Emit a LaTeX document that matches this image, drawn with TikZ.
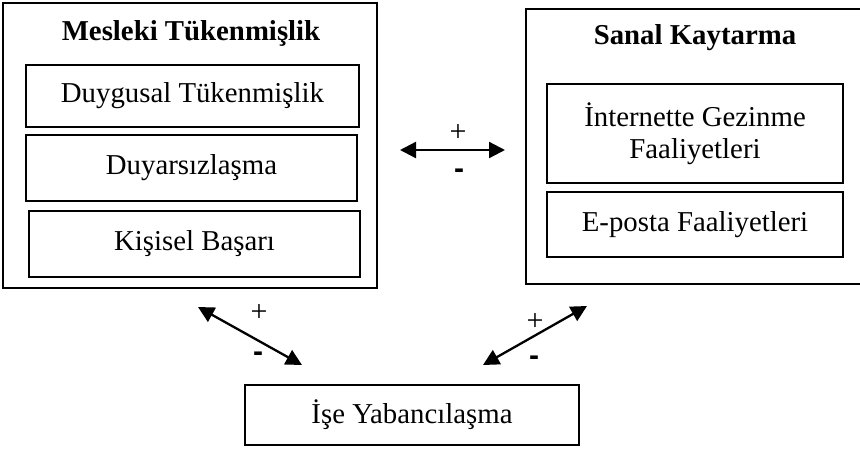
\documentclass[tikz,border=0pt]{standalone}
\usepackage{fontspec}
\setmainfont{Liberation Serif}
\newfontfamily\minusfont{Liberation Sans}
\usetikzlibrary{arrows.meta}
\begin{document}
\begin{tikzpicture}[x=1pt,y=-1pt,
  box/.style={draw,line width=1.6pt,rectangle,inner sep=0pt,align=center},
  txt/.style={font=\fontsize{28.8}{33}\selectfont},
  ttl/.style={font=\fontsize{28.8}{33}\selectfont\bfseries},
  sgn/.style={font=\fontsize{30}{30}\selectfont,inner sep=0pt},
  msgn/.style={font=\fontsize{30}{30}\selectfont\minusfont\bfseries,inner sep=0pt},
  dbl/.style={line width=2.3pt,{Triangle[length=16pt,width=16pt]}-{Triangle[length=16pt,width=16pt]}}]
\useasboundingbox (0,0) rectangle (860,448);
\clip (0,0) rectangle (860,448);
% left group
\node[box,minimum width=374pt,minimum height=285pt] (mt) at (190,145.5) {};
\node[ttl] (mtt) at (191,33) {Mesleki Tükenmişlik};
\node[box,txt,minimum width=333pt,minimum height=62pt] (dt) at (192.5,96) {Duygusal Tükenmişlik};
\node[box,txt,minimum width=331pt,minimum height=66pt] (du) at (191.5,168) {Duyarsızlaşma};
\node[box,txt,minimum width=331pt,minimum height=66pt] (kb) at (194.5,244) {Kişisel Başarı};
% right group
\node[box,minimum width=338pt,minimum height=275pt] (sk) at (695,146.5) {};
\node[ttl] (skt) at (695,38) {Sanal Kaytarma};
\node[box,txt,minimum width=296pt,minimum height=99pt] (ig) at (695,133.5) {İnternette Gezinme\\[-1pt]Faaliyetleri};
\node[box,txt,minimum width=296pt,minimum height=65pt] (ep) at (695,224.5) {E-posta Faaliyetleri};
% bottom
\node[box,txt,minimum width=334pt,minimum height=60pt] (iy) at (412,415) {İşe Yabancılaşma};
% connectors
\coordinate (h1) at (400,150);
\coordinate (h2) at (505,150);
\draw[dbl] (h1) -- (h2);
\node[sgn] (hp) at (458,133) {+};
\node[msgn] (hm) at (459,174) {-};
\coordinate (l1) at (198,307);
\coordinate (l2) at (302,365);
\draw[dbl] (l1) -- (l2);
\node[sgn] (lp) at (259,313) {+};
\node[msgn] (lm) at (258,357) {-};
\coordinate (r1) at (587,306);
\coordinate (r2) at (483,365);
\draw[dbl] (r1) -- (r2);
\node[sgn] (rp) at (535,322) {+};
\node[msgn] (rm) at (534,361) {-};
\end{tikzpicture}
\end{document}
